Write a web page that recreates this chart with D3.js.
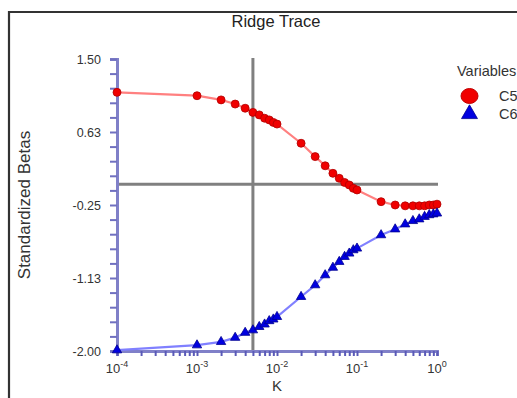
<!DOCTYPE html>
<html>
<head>
<meta charset="utf-8">
<script src="https://cdn.jsdelivr.net/npm/d3@7/dist/d3.min.js"></script>
<style>
  html, body { margin: 0; padding: 0; background: #fff; }
  svg { display: block; font-family: "Liberation Sans", Arial, sans-serif; }
</style>
</head>
<body>
<svg id="chart" width="517" height="398"></svg>
<script>
// ---- data ----
const kValues = [0.0001,
  0.001, 0.002, 0.003, 0.004, 0.005, 0.006, 0.007, 0.008, 0.009,
  0.01, 0.02, 0.03, 0.04, 0.05, 0.06, 0.07, 0.08, 0.09,
  0.1, 0.2, 0.3, 0.4, 0.5, 0.6, 0.7, 0.8, 0.9, 1];
const c5Betas = [1.10,
  1.06, 1.01, 0.96, 0.91, 0.86, 0.83, 0.79, 0.77, 0.74,
  0.72, 0.49, 0.33, 0.22, 0.13, 0.07, 0.02, -0.01, -0.05,
  -0.07, -0.21, -0.25, -0.26, -0.26, -0.26, -0.26, -0.25, -0.25, -0.24];
const c6Betas = [-1.99,
  -1.93, -1.89, -1.84, -1.78, -1.75, -1.71, -1.68, -1.64, -1.62,
  -1.59, -1.35, -1.21, -1.09, -1.00, -0.93, -0.87, -0.83, -0.79,
  -0.77, -0.61, -0.54, -0.48, -0.44, -0.42, -0.39, -0.37, -0.36, -0.35];
const yTickValues = [-2.00, -1.125, -0.25, 0.625, 1.50];
const yTickLabels = ["-2.00", "-1.13", "-0.25", "0.63", "1.50"];
const xTickExponents = [-4, -3, -2, -1, 0];
const seriesNames = ["C5", "C6"];
const refK = 0.005;
const refBeta = 0;

// ---- layout ----
const svg = d3.select("#chart");
const x = d3.scaleLog().domain([1e-4, 1]).range([117, 437]);
const y = d3.scaleLinear().domain([-2, 1.5]).range([351, 59]);

// frame
svg.append("path")
  .attr("d", "M9,400 L9,12 L520,12")
  .attr("fill", "none").attr("stroke", "#333").attr("stroke-width", 2.2);

// title
svg.append("text").attr("x", 276).attr("y", 27)
  .attr("text-anchor", "middle").attr("font-size", 16.5).attr("fill", "#222")
  .text("Ridge Trace");

// reference lines
svg.append("line")
  .attr("x1", x(refK)).attr("x2", x(refK)).attr("y1", y(1.5) - 1).attr("y2", y(-2))
  .attr("stroke", "#808080").attr("stroke-width", 3);
svg.append("line")
  .attr("x1", x(1e-4)).attr("x2", x(1) + 1).attr("y1", y(refBeta)).attr("y2", y(refBeta))
  .attr("stroke", "#808080").attr("stroke-width", 3);

// y axis
const yMinor = d3.range(0, 21).map(i => -2 + i * 0.175);
const yAxis = svg.append("g").attr("transform", `translate(${x(1e-4)},0)`)
  .call(d3.axisLeft(y).tickValues(yMinor).tickSize(7).tickPadding(9)
    .tickFormat((d, i) => {
      const j = yTickValues.findIndex(v => Math.abs(v - d) < 1e-6);
      return j >= 0 ? yTickLabels[j] : "";
    }));
yAxis.select(".domain").attr("stroke", "#8080c8").attr("stroke-width", 3);
yAxis.selectAll(".tick line").attr("stroke", "#7070c0").attr("stroke-width", 2);
yAxis.selectAll(".tick text").attr("font-size", 12.5).attr("fill", "#333")
  .attr("font-family", "Liberation Sans, Arial, sans-serif");

// x axis
const xMinor = [];
for (let e = -4; e <= 0; e++) {
  for (let m = 1; m <= 9; m++) {
    const v = m * Math.pow(10, e);
    if (v <= 1.0000001) xMinor.push(v);
  }
}
const xAxis = svg.append("g").attr("transform", `translate(0,${y(-2)})`)
  .call(d3.axisBottom(x).tickValues(xMinor).tickSize(5).tickFormat(""));
xAxis.select(".domain").attr("stroke", "#8080c8").attr("stroke-width", 3);
xAxis.selectAll(".tick line").attr("stroke", "#5a5ab8").attr("stroke-width", 2);

// x tick labels 10^n
xTickExponents.forEach(e => {
  const t = svg.append("text").attr("x", x(Math.pow(10, e))).attr("y", 373)
    .attr("text-anchor", "middle").attr("fill", "#333").attr("font-size", 13);
  t.append("tspan").text("10");
  t.append("tspan").attr("font-size", 9).attr("dy", -6).text(String(e));
});

// axis titles
svg.append("text").attr("x", 277).attr("y", 391).attr("text-anchor", "middle")
  .attr("font-size", 15).attr("fill", "#333").text("K");
svg.append("text").attr("transform", "translate(30,205) rotate(-90)")
  .attr("text-anchor", "middle").attr("font-size", 17).attr("fill", "#333")
  .text("Standardized Betas");

// series
const line = d3.line().x(d => x(d[0])).y(d => y(d[1]));
const c5 = kValues.map((k, i) => [k, c5Betas[i]]);
const c6 = kValues.map((k, i) => [k, c6Betas[i]]);

svg.append("path").datum(c5).attr("d", line)
  .attr("fill", "none").attr("stroke", "#ff8080").attr("stroke-width", 2.2);
svg.append("path").datum(c6).attr("d", line)
  .attr("fill", "none").attr("stroke", "#8080ff").attr("stroke-width", 2.2);

svg.append("g").selectAll("circle").data(c5).join("circle")
  .attr("cx", d => x(d[0])).attr("cy", d => y(d[1])).attr("r", 4)
  .attr("fill", "#f00000").attr("stroke", "#b00000").attr("stroke-width", 0.8);

const tri = d3.symbol().type(d3.symbolTriangle).size(38);
svg.append("g").selectAll("path").data(c6).join("path")
  .attr("transform", d => `translate(${x(d[0])},${y(d[1])})`)
  .attr("d", tri)
  .attr("fill", "#0000e0").attr("stroke", "#000090").attr("stroke-width", 0.8);

// legend
svg.append("text").attr("x", 457).attr("y", 76).attr("font-size", 14.5)
  .attr("fill", "#333").text("Variables");
svg.append("ellipse").attr("cx", 469.5).attr("cy", 96).attr("rx", 8.5).attr("ry", 7.5)
  .attr("fill", "#f00000").attr("stroke", "#c00000").attr("stroke-width", 1);
svg.append("path").attr("transform", "translate(469.5,114)")
  .attr("d", d3.symbol().type(d3.symbolTriangle).size(110))
  .attr("fill", "#0000e0").attr("stroke", "#000090").attr("stroke-width", 0.8);
svg.append("text").attr("x", 499).attr("y", 101).attr("font-size", 14.5)
  .attr("fill", "#333").text(seriesNames[0]);
svg.append("text").attr("x", 499).attr("y", 119).attr("font-size", 14.5)
  .attr("fill", "#333").text(seriesNames[1]);
</script>
</body>
</html>
